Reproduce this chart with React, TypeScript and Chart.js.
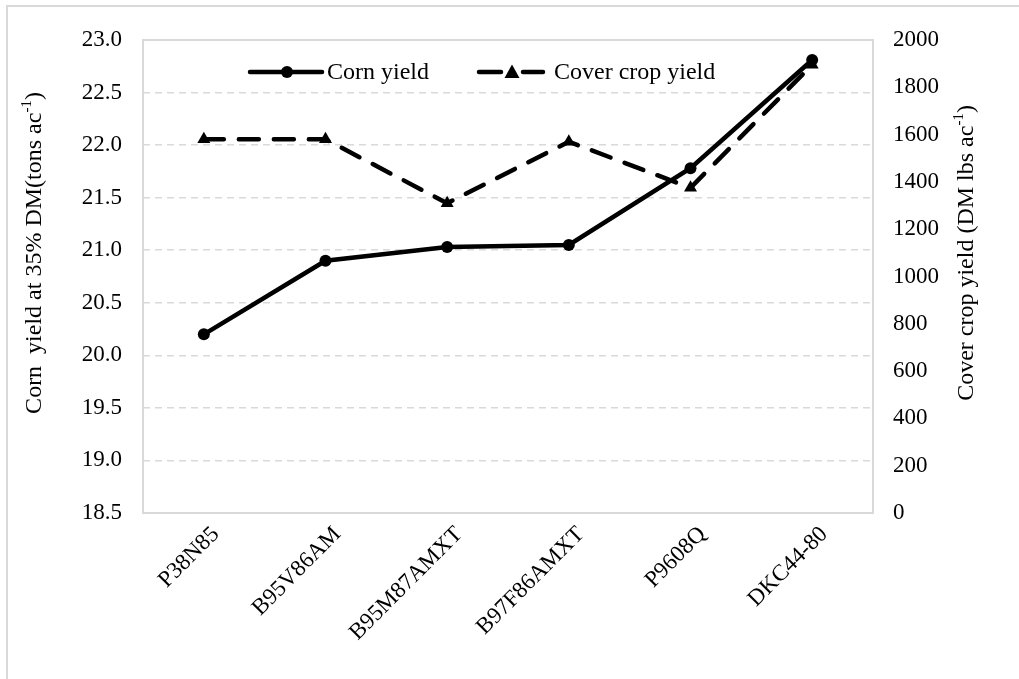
import React, { useEffect, useRef } from "react";
import { Chart, registerables } from "chart.js";

Chart.register(...registerables);

const categories = ["P38N85", "B95V86AM", "B95M87AMXT", "B97F86AMXT", "P9608Q", "DKC44-80"];
const cornYield = [20.2, 20.9, 21.03, 21.05, 21.78, 22.81];
const coverCropYield = [1580, 1580, 1310, 1570, 1375, 1895];
const seriesNames = ["Corn yield", "Cover crop yield"];
const leftTitle = ["Corn  yield at 35% DM(tons ac", "-1", ")"];
const rightTitle = ["Cover crop yield (DM lbs ac", "-1", ")"];

const FONT = "'Times New Roman', 'Liberation Serif', serif";
const GRID = "#d9d9d9";

function drawTitle(ctx: CanvasRenderingContext2D, parts: string[], cx: number, cy: number) {
  const big = `24px ${FONT}`;
  const small = `15px ${FONT}`;
  ctx.save();
  ctx.translate(cx, cy);
  ctx.rotate(-Math.PI / 2);
  ctx.fillStyle = "#000";
  ctx.textBaseline = "middle";
  ctx.textAlign = "left";
  ctx.font = big;
  const w0 = ctx.measureText(parts[0]).width;
  const w2 = ctx.measureText(parts[2]).width;
  ctx.font = small;
  const w1 = ctx.measureText(parts[1]).width;
  let x = -(w0 + w1 + w2) / 2;
  ctx.font = big;
  ctx.fillText(parts[0], x, 0);
  x += w0;
  ctx.font = small;
  ctx.fillText(parts[1], x, -8);
  x += w1;
  ctx.font = big;
  ctx.fillText(parts[2], x, 0);
  ctx.restore();
}

const decorPlugin = {
  id: "decor",
  beforeDatasetsDraw(chart: any) {
    const { ctx, chartArea } = chart;
    ctx.save();
    ctx.strokeStyle = GRID;
    ctx.lineWidth = 2;
    ctx.setLineDash([]);
    ctx.strokeRect(chartArea.left, chartArea.top, chartArea.right - chartArea.left, chartArea.bottom - chartArea.top);
    ctx.restore();
  },
  afterDraw(chart: any) {
    const { ctx, chartArea } = chart;
    const midY = 253;
    drawTitle(ctx, leftTitle, chartArea.left - 108, midY);
    drawTitle(ctx, rightTitle, chartArea.right + 94, midY);

    // legend
    const ly = chartArea.top + 32;
    const ds = chart.data.datasets;
    ctx.save();
    ctx.font = `24px ${FONT}`;
    ctx.fillStyle = "#000";
    ctx.textBaseline = "middle";
    ctx.textAlign = "left";
    // corn sample
    let x0 = chartArea.left + 107;
    ctx.strokeStyle = ds[0].borderColor;
    ctx.lineWidth = ds[0].borderWidth;
    ctx.lineCap = "round";
    ctx.beginPath();
    ctx.moveTo(x0, ly);
    ctx.lineTo(x0 + 72, ly);
    ctx.stroke();
    ctx.fillStyle = ds[0].pointBackgroundColor;
    ctx.beginPath();
    ctx.arc(x0 + 37, ly, ds[0].pointRadius, 0, Math.PI * 2);
    ctx.fill();
    ctx.fillStyle = "#000";
    ctx.fillText(ds[0].label, x0 + 77, ly + 1);
    // cover sample
    x0 = chartArea.left + 336;
    ctx.strokeStyle = ds[1].borderColor;
    ctx.lineWidth = ds[1].borderWidth;
    ctx.beginPath();
    ctx.moveTo(x0, ly);
    ctx.lineTo(x0 + 22, ly);
    ctx.moveTo(x0 + 44, ly);
    ctx.lineTo(x0 + 64, ly);
    ctx.stroke();
    const r = ds[1].pointRadius;
    const tx = x0 + 33;
    ctx.fillStyle = ds[1].pointBackgroundColor;
    ctx.beginPath();
    ctx.moveTo(tx, ly - r);
    ctx.lineTo(tx + r, ly + r * 0.8);
    ctx.lineTo(tx - r, ly + r * 0.8);
    ctx.closePath();
    ctx.fill();
    ctx.fillStyle = "#000";
    ctx.fillText(ds[1].label, x0 + 75, ly + 1);
    ctx.restore();
  },
};

export default function App() {
  const ref = useRef<HTMLCanvasElement | null>(null);

  useEffect(() => {
    document.body.style.margin = "0";
    const canvas = ref.current;
    if (!canvas) return;
    const tickFont = { family: FONT, size: 23 };
    const chart = new Chart(canvas, {
      type: "line",
      data: {
        labels: categories,
        datasets: [
          {
            label: seriesNames[0],
            data: cornYield,
            yAxisID: "y",
            borderColor: "#000",
            backgroundColor: "#000",
            borderWidth: 4.5,
            pointStyle: "circle",
            pointRadius: 6,
            pointBackgroundColor: "#000",
            pointBorderColor: "#000",
            pointBorderWidth: 0,
            tension: 0,
            order: 1,
          },
          {
            label: seriesNames[1],
            data: coverCropYield,
            yAxisID: "y1",
            borderColor: "#000",
            backgroundColor: "#000",
            borderWidth: 4.5,
            borderDash: [20, 15],
            borderCapStyle: "round",
            pointStyle: "triangle",
            pointRadius: 7.5,
            pointBackgroundColor: "#000",
            pointBorderColor: "#000",
            pointBorderWidth: 0,
            tension: 0,
            order: 2,
          },
        ],
      },
      options: {
        animation: false,
        responsive: false,
        maintainAspectRatio: false,
        layout: { padding: { top: 40, left: 0, right: 0, bottom: 0 } },
        plugins: { legend: { display: false }, tooltip: { enabled: false } },
        scales: {
          x: {
            type: "category",
            offset: true,
            grid: { display: false, drawTicks: false },
            border: { display: false },
            ticks: {
              font: tickFont,
              color: "#000",
              maxRotation: 45,
              minRotation: 45,
              padding: 8,
              labelOffset: 12,
            },
            afterFit: (s: any) => {
              s.height = 166;
            },
          },
          y: {
            position: "left",
            min: 18.5,
            max: 23,
            grid: { color: GRID, lineWidth: 1.5, drawTicks: false },
            border: { display: false, dash: [7, 5] },
            ticks: {
              stepSize: 0.5,
              font: tickFont,
              color: "#000",
              padding: 21,
              callback: (v: any) => Number(v).toFixed(1),
            },
            afterFit: (s: any) => {
              s.width = 143;
            },
          },
          y1: {
            position: "right",
            min: 0,
            max: 2000,
            grid: { drawOnChartArea: false, drawTicks: false },
            border: { display: false },
            ticks: {
              stepSize: 200,
              font: tickFont,
              color: "#000",
              padding: 20,
              callback: (v: any) => String(v),
            },
            afterFit: (s: any) => {
              s.width = 146;
            },
          },
        },
      },
      plugins: [decorPlugin],
    });
    return () => chart.destroy();
  }, []);

  return (
    <div style={{ position: "relative", width: 1019, height: 679, overflow: "hidden", background: "#fff" }}>
      <div
        style={{
          position: "absolute",
          left: 6,
          top: 5,
          width: 1100,
          height: 800,
          borderLeft: `2px solid ${GRID}`,
          borderTop: `2px solid ${GRID}`,
        }}
      />
      <canvas ref={ref} width={1019} height={679} style={{ position: "absolute", left: 0, top: 0 }} />
    </div>
  );
}
